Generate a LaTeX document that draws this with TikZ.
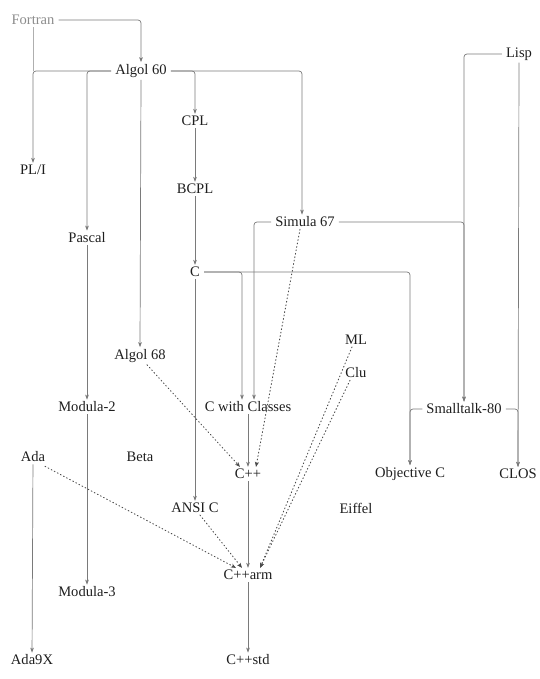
\documentclass[tikz,border=0pt]{standalone}
\usepackage{fontspec}
\setmainfont{Liberation Serif}
\usetikzlibrary{arrows.meta}
\definecolor{ink}{HTML}{1E1E1E}
\definecolor{wire}{HTML}{7A7A7A}
\definecolor{faint}{HTML}{8C8C8C}
\begin{document}
\begin{tikzpicture}[x=1bp,y=-1bp,
  lang/.style={text=ink,inner xsep=4pt,inner ysep=2pt,font=\fontsize{14.6}{17}\selectfont},
  link/.style={draw=wire,line width=0.7pt,rounded corners=3pt,-{Stealth[length=5pt,width=3.6pt,inset=1.2pt]}},
  plain/.style={draw=wire,line width=0.7pt,rounded corners=3pt},
  hint/.style={draw=ink!80,line width=0.9pt,dash pattern=on 0.9pt off 2.6pt,line cap=round,-{Stealth[length=5pt,width=4pt,inset=1.2pt]}}]
\useasboundingbox (0,0) rectangle (540,679);
% nodes
\node[lang,text=faint] (fortran) at (33,20) {Fortran};
\node[lang] (algol60) at (141,71) {Algol 60};
\node[lang] (pli) at (33,170) {PL/I};
\node[lang] (cpl) at (195,121) {CPL};
\node[lang] (bcpl) at (195,189) {BCPL};
\node[lang] (pascal) at (87,238) {Pascal};
\node[lang] (simula) at (305,222) {Simula 67};
\node[lang] (lisp) at (519,54) {Lisp};
\node[lang] (c) at (195,272) {C};
\node[lang] (algol68) at (140,356) {Algol 68};
\node[lang] (ml) at (356,340) {ML};
\node[lang] (clu) at (356,373) {Clu};
\node[lang] (modula2) at (87,407) {Modula-2};
\node[lang] (cwc) at (248,407) {C with Classes};
\node[lang] (smalltalk) at (464,409) {Smalltalk-80};
\node[lang] (ada) at (33,457) {Ada};
\node[lang] (beta) at (140,457) {Beta};
\node[lang] (cpp) at (248,474) {C++};
\node[lang] (objc) at (410,474) {Objective C};
\node[lang] (clos) at (518,474) {CLOS};
\node[lang] (ansic) at (195,508) {ANSI C};
\node[lang] (eiffel) at (356,508) {Eiffel};
\node[lang] (cpparm) at (248,575) {C++arm};
\node[lang] (modula3) at (87,592) {Modula-3};
\node[lang] (ada9x) at (32,660) {Ada9X};
\node[lang] (cppstd) at (248,660) {C++std};
% solid derivations
\draw[link] (fortran.east) -| (algol60.north);
\draw[plain,draw=faint!70] (fortran.south) -- (fortran.south |- algol60.west);
\draw[link] (algol60.west) -| (pli.north);
\draw[link] (algol60.west) -| (pascal.north);
\draw[link] (algol60.south) -- (algol68.north);
\draw[link] (algol60.east) -| (cpl.north);
\draw[link] (algol60.east) -| ([xshift=-3bp]simula.north);
\draw[link] (cpl) -- (bcpl);
\draw[link] (bcpl) -- (c);
\draw[link] (pascal) -- (modula2);
\draw[link] (modula2) -- (modula3);
\draw[link] (c.east) -| (objc.north);
\draw[link] (c.east) -| ([xshift=-6bp]cwc.north);
\draw[link] (c.south) -- (ansic.north);
\draw[link] (simula.west) -| ([xshift=6bp]cwc.north);
\draw[link] (simula.east) -| (smalltalk.north);
\draw[link] (lisp.west) -| (smalltalk.north);
\draw[link] (lisp.south) -- (clos.north);
\draw[link] (smalltalk.west) -| (objc.north);
\draw[link] (smalltalk.east) -| (clos.north);
\draw[link] (cwc) -- (cpp);
\draw[link] (cpp) -- (cpparm);
\draw[link] (cpparm) -- (cppstd);
\draw[link] (ada) -- (ada9x);
% dotted influences
\draw[hint] ([xshift=7bp]algol68.south) -- ([xshift=-8bp]cpp.north);
\draw[hint] ([xshift=-5bp]simula.south) -- ([xshift=8bp]cpp.north);
\draw[hint] ([xshift=12bp,yshift=-2bp]ada.south) -- ([xshift=-12bp]cpparm.north);
\draw[hint] ([xshift=5bp]ansic.south) -- ([xshift=-6bp]cpparm.north);
\draw[hint] ([xshift=-4bp]ml.south) -- ([xshift=12bp]cpparm.north);
\draw[hint] ([xshift=-6bp]clu.south) -- ([xshift=12bp]cpparm.north);
\end{tikzpicture}
\end{document}
